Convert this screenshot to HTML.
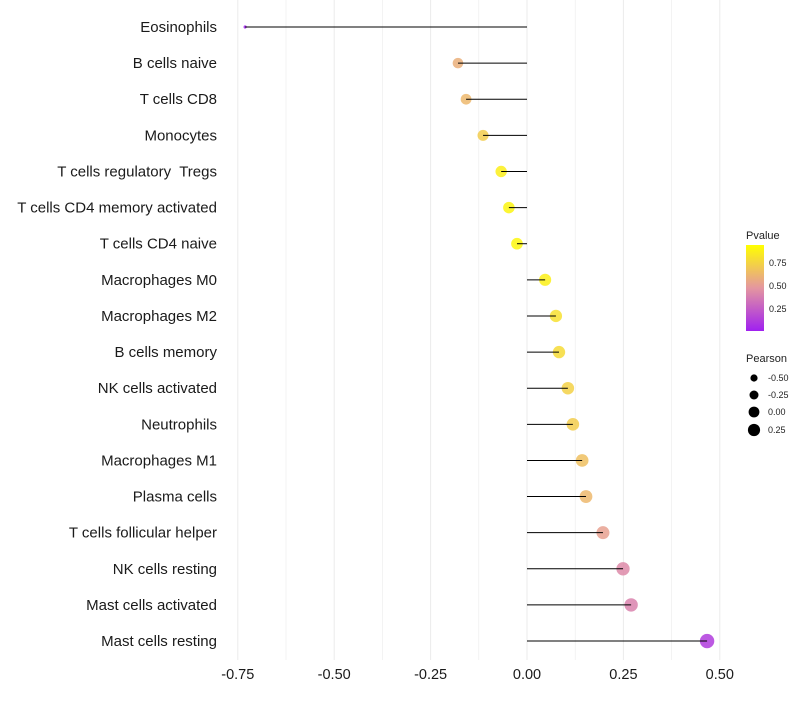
<!DOCTYPE html>
<html><head><meta charset="utf-8"><style>
body{margin:0;background:#fff;font-family:"Liberation Sans",sans-serif}
</style></head><body>
<svg id="c" width="800" height="700" xmlns="http://www.w3.org/2000/svg">
<defs><linearGradient id="pg" x1="0" y1="1" x2="0" y2="0">
<stop offset="0" stop-color="rgb(160,32,240)"/><stop offset="0.5" stop-color="rgb(228,150,160)"/><stop offset="1" stop-color="rgb(255,255,0)"/></linearGradient></defs>
<g id="grid"></g><g id="dots"></g><g id="stems"></g><g id="labels"></g><g id="legend"></g>
</svg>
<script>
const categories=["Eosinophils","B cells naive","T cells CD8","Monocytes","T cells regulatory  Tregs","T cells CD4 memory activated","T cells CD4 naive","Macrophages M0","Macrophages M2","B cells memory","NK cells activated","Neutrophils","Macrophages M1","Plasma cells","T cells follicular helper","NK cells resting","Mast cells activated","Mast cells resting"];
const pearson=[-0.731,-0.179,-0.158,-0.114,-0.067,-0.047,-0.026,0.047,0.075,0.083,0.106,0.119,0.143,0.153,0.197,0.249,0.270,0.467];
const pvalues=[0.001,0.62,0.66,0.76,0.92,0.95,0.96,0.93,0.85,0.83,0.78,0.76,0.7,0.66,0.55,0.45,0.42,0.12];
const xTicks=[-0.75,-0.5,-0.25,0,0.25,0.5];
const xTickLabels=["-0.75","-0.50","-0.25","0.00","0.25","0.50"];
const NS="http://www.w3.org/2000/svg";
const x=v=>527+v*385.6;
const y=i=>27+i*36.12;
const pmin=Math.min(...pearson),pmax=Math.max(...pearson);
const rad=v=>Math.sqrt(2.5+(52-2.5)*Math.pow((v-pmin)/(pmax-pmin),0.85));
function lerp(a,b,t){return a.map((c,i)=>Math.round(c+(b[i]-c)*t));}
function col(p){const lo=[160,32,240],mid=[228,150,160],hi=[255,255,0];
 const t=Math.max(0,Math.min(1,p));let c=t<0.5?lerp(lo,mid,t/0.5):lerp(mid,hi,(t-0.5)/0.5);return `rgb(${c})`;}
function mk(tag,attrs,parent,text){const e=document.createElementNS(NS,tag);for(const k in attrs)e.setAttribute(k,attrs[k]);if(text!==undefined)e.textContent=text;document.getElementById(parent).appendChild(e);return e;}
for(let v=-0.75;v<=0.51;v+=0.125){const e=mk("line",{x1:x(v),x2:x(v),y1:0,y2:660,stroke:"#ebebeb","stroke-width":Math.abs((v/0.25)-Math.round(v/0.25))<0.01?1:0.6},"grid");

}
xTicks.forEach((t,i)=>{const e=mk("text",{x:x(t),y:679,"text-anchor":"middle","font-size":14.5,fill:"#1a1a1a"},"labels",xTickLabels[i]);

});
categories.forEach((c,i)=>{
 const l=mk("text",{x:217,y:y(i)+5,"text-anchor":"end","font-size":15,fill:"#1a1a1a",style:"white-space:pre"},"labels",c);
 
 
 const d=mk("circle",{cx:x(pearson[i]),cy:y(i),r:rad(pearson[i]),fill:col(pvalues[i]),"fill-opacity":0.85},"dots");
 
 
 const s=mk("line",{x1:x(0),x2:x(pearson[i]),y1:y(i),y2:y(i),stroke:"#000","stroke-width":1},"stems");
 
 
});
const L=document.getElementById("legend");
L.innerHTML=`<text x="746" y="239" font-size="11" fill="#222">Pvalue</text>
<rect x="746" y="245" width="18" height="86" fill="url(#pg)"/>
<g font-size="9" fill="#222"><text x="769" y="266">0.75</text><text x="769" y="289">0.50</text><text x="769" y="312">0.25</text></g>
<text x="746" y="362" font-size="11" fill="#222">Pearson</text>
<g fill="#000">
<circle cx="754" cy="378" r="3.6"/><circle cx="754" cy="395" r="4.5"/><circle cx="754" cy="412" r="5.4"/><circle cx="754" cy="430" r="6.1"/></g>
<g font-size="9" fill="#222"><text x="768" y="381">-0.50</text><text x="768" y="398">-0.25</text><text x="768" y="415">0.00</text><text x="768" y="433">0.25</text></g>`;
</script>
</body></html>
